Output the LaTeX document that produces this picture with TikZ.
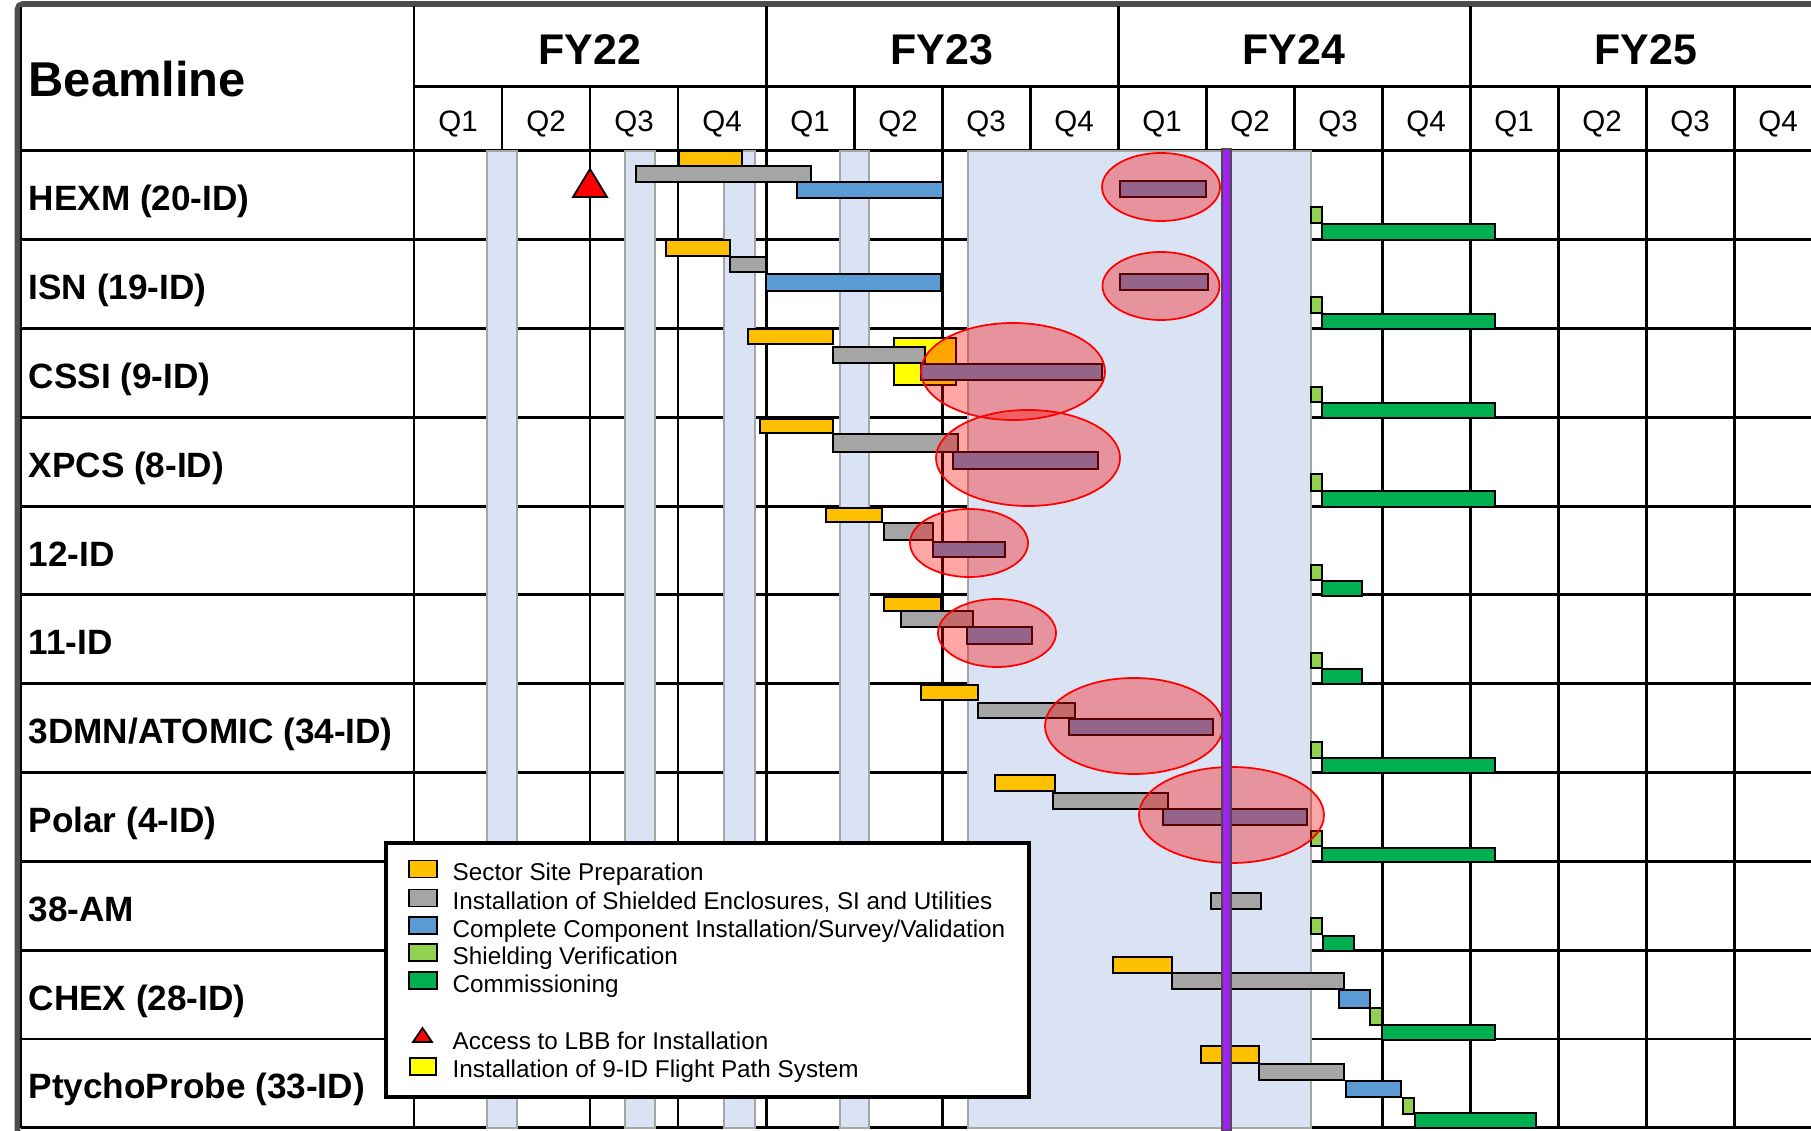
\documentclass[tikz,border=0pt]{standalone}
\usepackage{fontspec}
\setmainfont{Liberation Sans}

\definecolor{prepcol}{HTML}{FFC000}
\definecolor{enclcol}{HTML}{A5A5A5}
\definecolor{instcol}{HTML}{5B9BD5}
\definecolor{verifcol}{HTML}{92D050}
\definecolor{commcol}{HTML}{00B050}
\definecolor{flightcol}{HTML}{FFFF00}
\definecolor{bandcol}{HTML}{DAE3F3}
\definecolor{nowcol}{HTML}{A020F0}
\definecolor{framecol}{HTML}{4D4D4D}

\begin{document}
\begin{tikzpicture}[x=0.01cm, y=-0.01cm,
    gridline/.style={line width=0.85pt}, band/.style={ fill=bandcol,
    draw=gray!70, line width=0.3pt }, bar/.style={ draw=black,
    line width=0.5pt }, ring/.style={ draw=red, fill=red,
    fill opacity=0.35, line width=0.5pt }, rowlabel/.style={
    anchor=base west, inner sep=0pt,
    font=\bfseries\fontsize{10}{12}\selectfont }, fylabel/.style={
    anchor=base, inner sep=0pt,
    font=\bfseries\fontsize{12.2}{14}\selectfont }, qlabel/.style={
    anchor=base, inner sep=0pt, font=\fontsize{8.4}{10}\selectfont },
    legtext/.style={ anchor=base west, inner sep=0pt,
    font=\fontsize{6.9}{8}\selectfont } ]
  \useasboundingbox (0,0) rectangle (1811,1131);
  \fill[white] (0,0) rectangle (1811,1131);
  \draw[framecol, line width=1.6pt, rounded corners=1.5pt] (17.5,1140) |- (1830,4);
  \draw[line width=0.6pt] (21,7) -- (21,1128);

  \draw[gridline] (414,87) -- (1811,87);
  \foreach \r in {0,...,11}
  \draw[gridline] (21,151+88.8*\r) -- (1811,151+88.8*\r);
  \foreach \x in {414,766,1118,1470}
  \draw[gridline] (\x,6) -- (\x,1128);
  \foreach \q in {1,2,3,5,6,7,9,10,11,13,14,15}
  \draw[gridline] (414+88*\q,87) -- (414+88*\q,1128);

  \node[anchor=base west, inner sep=0pt,
    font=\bfseries\fontsize{13.9}{16}\selectfont] (beamline) at (28,97) {Beamline};
  \foreach \yr [count=\i from 0] in {22,...,25}
  \node[fylabel] (fy\yr) at (590+352*\i,64.5) {FY\yr};
  \foreach \q in {0,...,15} {
    \pgfmathtruncatemacro\qn{mod(\q,4)+1}
    \node[qlabel] (q\q) at (458+88*\q,131.5) {Q\qn};
  }
  \foreach \lbl [count=\i from 0] in {HEXM (20-ID),ISN (19-ID),CSSI (9-ID),
    XPCS (8-ID),12-ID,11-ID,3DMN/ATOMIC (34-ID),Polar (4-ID),38-AM,
    CHEX (28-ID),PtychoProbe (33-ID)}
  \node[rowlabel] (row\i) at (28,211+88.8*\i) {\lbl};

  \foreach \a/\b in {487/517,625/655,724/755,840/869,968/1311}
  \draw[band] (\a,151) rectangle (\b,1128);

  \draw[bar, fill=red] (590,169) -- (607,197) -- (573,197) -- cycle;

  \foreach \a/\b/\c/\d/\col in {
    679/151/742/166/prepcol, 636/166/811/182/enclcol, 797/182/943/198/instcol,
    1120/181/1206/197/instcol, 1311/207/1322/223/verifcol, 1322/224/1495/240/commcol,
    666/240/730/256/prepcol, 730/257/766/272/enclcol, 766/274/941/291/instcol,
    1120/274/1208/290/instcol, 1311/297/1322/313/verifcol, 1322/314/1495/329/commcol,
    748/329/833/344/prepcol, 894/338/956/385/flightcol, 833/347/925/363/enclcol,
    921/364/1102/380/instcol, 1311/387/1322/402/verifcol, 1322/403/1495/418/commcol,
    760/419/833/433/prepcol, 833/434/958/452/enclcol, 953/452/1098/469/instcol,
    1311/474/1322/491/verifcol, 1322/491/1495/507/commcol,
    826/508/882/522/prepcol, 884/523/933/540/enclcol, 933/542/1005/557/instcol,
    1311/565/1322/580/verifcol, 1322/581/1362/596/commcol,
    884/597/941/611/prepcol, 901/611/973/627/enclcol, 967/627/1032/644/instcol,
    1311/653/1322/668/verifcol, 1322/669/1362/684/commcol,
    921/685/978/700/prepcol, 978/703/1075/718/enclcol, 1069/719/1213/735/instcol,
    1311/742/1322/758/verifcol, 1322/758/1495/773/commcol,
    995/775/1055/791/prepcol, 1053/793/1168/809/enclcol, 1163/809/1307/825/instcol,
    1311/831/1322/846/verifcol, 1322/848/1495/862/commcol,
    1211/893/1261/909/enclcol, 1311/918/1322/934/verifcol, 1323/936/1354/951/commcol,
    1113/957/1172/973/prepcol, 1172/973/1344/989/enclcol, 1339/990/1370/1008/instcol,
    1370/1008/1382/1025/verifcol, 1382/1025/1495/1040/commcol,
    1201/1046/1259/1063/prepcol, 1259/1064/1344/1080/enclcol, 1346/1081/1401/1097/instcol,
    1403/1098/1414/1114/verifcol, 1415/1113/1536/1128/commcol}
  \draw[bar, fill=\col] (\a,\b) rectangle (\c,\d);

  \foreach \x/\y/\rx/\ry in {1161/187/59/34,1161/286/58.5/34,1013/371.5/92/48.5,
    1028/458/92/48,969/543/59/34,997/633/59/34,1134/726/89/48,1231.5/815/92.5/48}
  \draw[ring] (\x,\y) ellipse [x radius=\rx, y radius=\ry];

  \draw[draw=gray!60!black, fill=nowcol, line width=0.4pt] (1222,149) rectangle (1231,1131);

  \draw[line width=1.2pt, fill=white] (386,843) rectangle (1029,1097);
  \foreach \y/\col/\txt [count=\i] in {869/prepcol/{Sector Site Preparation},
    898/enclcol/{Installation of Shielded Enclosures, SI and Utilities},
    925.5/instcol/{Complete Component Installation/Survey/Validation},
    952.5/verifcol/{Shielding Verification}, 980.5/commcol/{Commissioning}} {
    \draw[bar, fill=\col] (409,\y-8.5) rectangle (437,\y+8.5);
    \node[legtext] (leg\i) at (452,\y+12) {\txt};
  }
  \draw[bar, fill=red] (422.5,1028) -- (432,1042) -- (413,1042) -- cycle;
  \node[legtext] (leg6) at (452,1049.5) {Access to LBB for Installation};
  \draw[bar, fill=flightcol] (410,1058) rectangle (436,1075);
  \node[legtext] (leg7) at (452,1077.5) {Installation of 9-ID Flight Path System};
\end{tikzpicture}
\end{document}
